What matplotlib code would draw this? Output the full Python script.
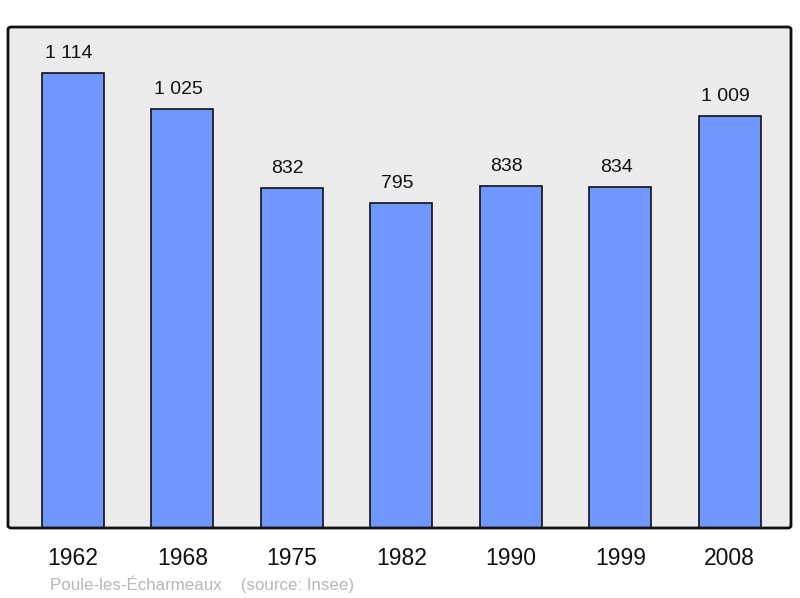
import matplotlib
matplotlib.use('Agg')
import matplotlib.pyplot as plt
from matplotlib.patches import FancyBboxPatch

years = ['1962', '1968', '1975', '1982', '1990', '1999', '2008']
population = [1114, 1025, 832, 795, 838, 834, 1009]
labels = ['1 114', '1 025', '832', '795', '838', '834', '1 009']

plt.rcParams['font.family'] = ['Liberation Sans', 'DejaVu Sans']

fig = plt.figure(figsize=(8, 5.98), dpi=100)
# axes box: x 8..791, y 27..528 in pixels
ax = fig.add_axes([8 / 800, 1 - 528 / 598, 783 / 800, 501 / 598])
ax.set_facecolor('none')
ax.set_zorder(2)

# background box with slightly rounded corners
bg = FancyBboxPatch((8 / 800, 1 - 528 / 598), 783 / 800, 501 / 598,
                    boxstyle='round,pad=0,rounding_size=0.004',
                    transform=fig.transFigure, facecolor='#ececec',
                    edgecolor='none', zorder=0)
fig.patches.append(bg)
frame = FancyBboxPatch((8 / 800, 1 - 528 / 598), 783 / 800, 501 / 598,
                       boxstyle='round,pad=0,rounding_size=0.004',
                       transform=fig.transFigure, facecolor='none',
                       edgecolor='#111111', linewidth=2, zorder=5,
                       clip_on=False)
ax.add_artist(frame)

x = list(range(len(years)))
ax.bar(x, population, width=0.567, color='#7096ff', edgecolor='#111111',
       linewidth=1.2, zorder=2)

# value labels sit a little left of the bar centre, like the original
for xi, v, lab in zip(x, population, labels):
    ax.annotate(lab, (xi, v), xytext=(-4, 15), textcoords='offset pixels',
                ha='center', va='baseline', fontsize=14, color='#111111')

for xi, yr in zip(x, years):
    ax.annotate(yr, (xi, 0), xycoords=('data', 'axes fraction'),
                xytext=(0, -37), textcoords='offset pixels',
                ha='center', va='baseline', fontsize=16.5, color='#111111',
                annotation_clip=False)

ax.set_xlim(-0.594, 6.56)
ax.set_ylim(0, 1227)
ax.set_yticks([])
ax.set_xticks([])
for s in ax.spines.values():
    s.set_visible(False)

fig.text(50 / 800, 1 - 590 / 598, 'Poule-les-Écharmeaux    (source: Insee)',
         fontsize=12.2, color='#b8b8b8', va='baseline', ha='left')

fig.savefig('out.png', dpi=100)
